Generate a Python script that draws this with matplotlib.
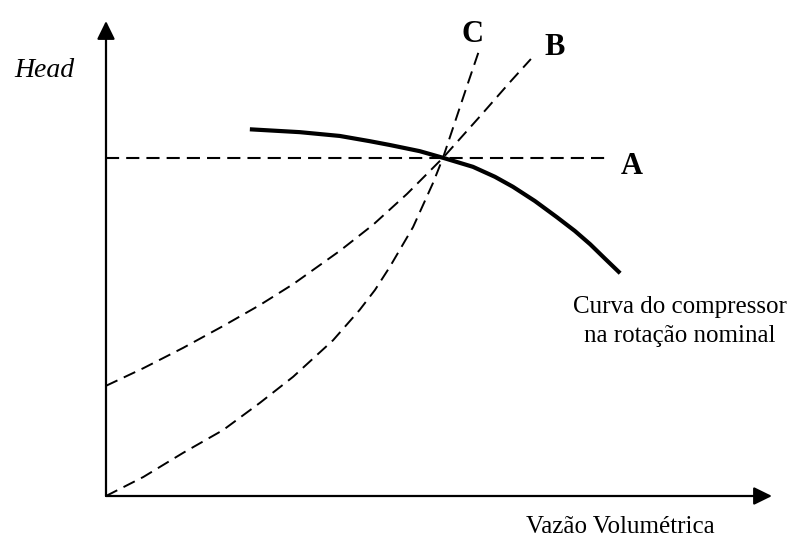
import matplotlib
matplotlib.use("Agg")
import matplotlib.pyplot as plt

plt.rcParams['font.family'] = ['Liberation Serif', 'DejaVu Serif']

# curve of the compressor at nominal speed
comp_x = [2.16, 2.91, 3.51, 3.96, 4.26, 4.71, 5.06, 5.51, 5.84, 6.11, 6.44, 6.77, 7.04, 7.27, 7.49, 7.72]
comp_y = [7.72, 7.66, 7.58, 7.47, 7.39, 7.26, 7.12, 6.93, 6.72, 6.51, 6.21, 5.87, 5.58, 5.30, 5.00, 4.69]

# A: constant head
a_x = [0.0, 7.52]
a_y = [7.12, 7.12]

# B
b_x = [0.0, 0.56, 1.16, 1.76, 2.31, 2.81, 3.51, 4.01, 4.52, 5.06, 5.62, 6.07, 6.38]
b_y = [2.32, 2.69, 3.12, 3.58, 4.02, 4.46, 5.16, 5.71, 6.36, 7.12, 8.00, 8.72, 9.20]

# C
c_x = [0.0, 0.56, 1.16, 1.76, 2.31, 2.81, 3.41, 3.81, 4.04, 4.26, 4.41, 4.61, 4.91, 5.06, 5.27, 5.42, 5.59]
c_y = [0.0, 0.40, 0.91, 1.39, 1.96, 2.51, 3.28, 3.92, 4.34, 4.82, 5.18, 5.66, 6.59, 7.12, 8.00, 8.63, 9.33]

fig = plt.figure(figsize=(7.98, 5.39), dpi=100)
ax = fig.add_axes([106/798, 43/539, 666/798, 475/539])
ax.set_xlim(0, 10)
ax.set_ylim(0, 10)
ax.axis('off')

# axes with arrow heads
arrow = dict(arrowstyle='-|>,head_length=0.55,head_width=0.27', mutation_scale=20,
             lw=1.6, color='black', shrinkA=0, shrinkB=0)
ax.annotate('', xy=(0, 10), xytext=(0, 0), arrowprops=arrow, annotation_clip=False)
ax.annotate('', xy=(10, 0), xytext=(0, 0), arrowprops=arrow, annotation_clip=False)

ax.plot(a_x, a_y, color='black', lw=1.5, dashes=(6.3, 3.4), clip_on=False)
ax.plot(b_x, b_y, color='black', lw=1.4, dashes=(6.5, 3.6), clip_on=False)
ax.plot(c_x, c_y, color='black', lw=1.4, dashes=(6.5, 3.6), clip_on=False)
ax.plot(comp_x, comp_y, color='black', lw=3.0, solid_capstyle='butt',
        solid_joinstyle='round', clip_on=False)

ax.text(7.90, 6.78, 'A', fontsize=22, fontweight='bold', ha='center', va='baseline')
ax.text(6.73, 9.28, 'B', fontsize=22, fontweight='bold', ha='center', va='baseline', clip_on=False)
ax.text(5.50, 9.56, 'C', fontsize=22, fontweight='bold', ha='center', va='baseline', clip_on=False)

ax.text(-0.92, 8.82, 'Head', fontsize=20, style='italic', ha='center', va='baseline', clip_on=False)
ax.text(7.72, -0.78, 'Vazão Volumétrica', fontsize=18, ha='center', va='baseline', clip_on=False)
ax.text(8.62, 3.85, 'Curva do compressor', fontsize=18, ha='center', va='baseline', clip_on=False)
ax.text(8.62, 3.24, 'na rotação nominal', fontsize=18, ha='center', va='baseline', clip_on=False)

fig.savefig('out.png', dpi=100)
plt.close(fig)
